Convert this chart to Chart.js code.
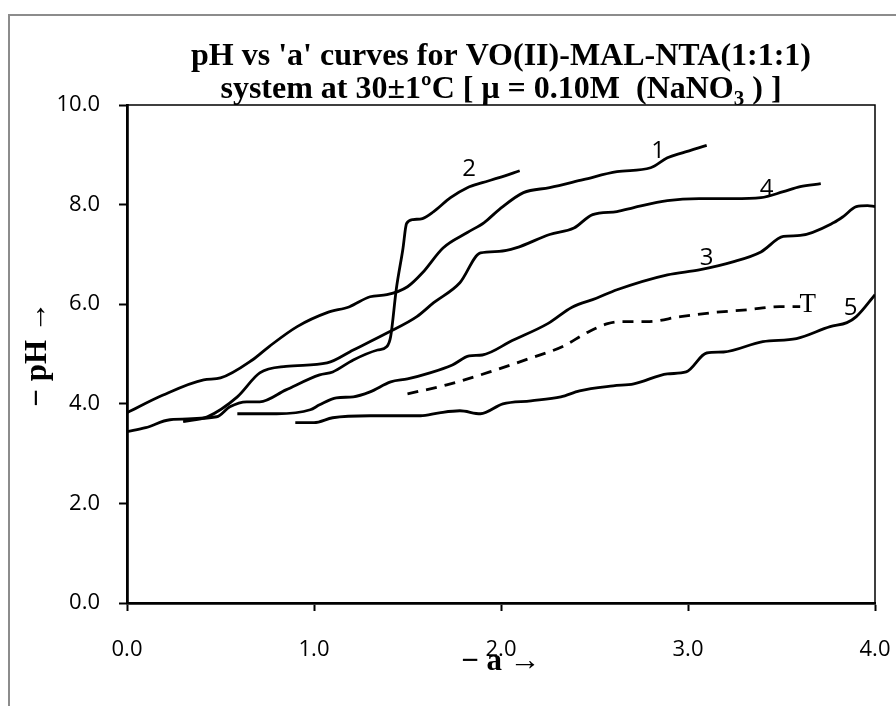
<!DOCTYPE html>
<html>
<head>
<meta charset="utf-8">
<script src="https://cdn.jsdelivr.net/npm/chart.js@4.4.1/dist/chart.umd.min.js"></script>
<style>
  html, body { margin: 0; padding: 0; background: #fff; }
  #wrap { position: relative; width: 896px; height: 706px; }
  #frame { position: absolute; left: 8px; top: 14px; width: 900px; height: 700px;
           border-left: 2px solid #8c8c8c; border-top: 2px solid #8c8c8c; }
  canvas { position: absolute; left: 0; top: 0; }
</style>
</head>
<body>
<div id="wrap">
  <div id="frame"></div>
  <canvas id="phChart" width="896" height="706"></canvas>
</div>
<script>
// values
const curve1X = [0.00, 0.19, 0.41, 0.50, 0.67, 0.76, 0.91, 1.07, 1.19, 1.30, 1.39, 1.50, 1.58, 1.69, 1.82, 1.91, 1.99, 2.12, 2.26, 2.44, 2.62, 2.80, 2.89, 2.97, 3.10];
const curve1Y = [3.82, 4.17, 4.48, 4.52, 4.88, 5.15, 5.55, 5.83, 5.95, 6.15, 6.19, 6.35, 6.63, 7.13, 7.44, 7.64, 7.90, 8.24, 8.34, 8.50, 8.66, 8.74, 8.94, 9.04, 9.19];

const curve2X = [0.00, 0.10, 0.23, 0.48, 0.55, 0.64, 0.71, 0.85, 1.03, 1.10, 1.21, 1.34, 1.39, 1.41, 1.44, 1.475, 1.495, 1.53, 1.58, 1.64, 1.73, 1.82, 1.90, 1.99, 2.10];
const curve2Y = [3.44, 3.52, 3.68, 3.74, 3.94, 4.04, 4.04, 4.28, 4.58, 4.64, 4.88, 5.08, 5.15, 5.35, 6.30, 7.10, 7.62, 7.70, 7.72, 7.86, 8.14, 8.34, 8.44, 8.54, 8.68];

const curve3X = [0.59, 0.80, 0.98, 1.03, 1.12, 1.21, 1.30, 1.41, 1.50, 1.62, 1.74, 1.83, 1.90, 2.06, 2.25, 2.38, 2.51, 2.62, 2.89, 3.06, 3.24, 3.39, 3.51, 3.60, 3.78, 3.83, 3.90, 3.96, 4.00];
const curve3Y = [3.80, 3.80, 3.88, 3.98, 4.12, 4.14, 4.24, 4.44, 4.50, 4.62, 4.78, 4.96, 4.98, 5.27, 5.61, 5.94, 6.12, 6.29, 6.59, 6.69, 6.85, 7.05, 7.36, 7.38, 7.64, 7.76, 7.96, 7.98, 7.96];

const curve4X = [0.30, 0.43, 0.59, 0.71, 0.85, 1.07, 1.21, 1.39, 1.55, 1.64, 1.78, 1.89, 1.99, 2.08, 2.26, 2.39, 2.49, 2.62, 2.71, 2.89, 3.06, 3.24, 3.39, 3.51, 3.60, 3.71];
const curve4Y = [3.64, 3.74, 4.14, 4.62, 4.75, 4.82, 5.08, 5.42, 5.75, 6.03, 6.43, 7.03, 7.06, 7.13, 7.40, 7.53, 7.80, 7.86, 7.94, 8.08, 8.12, 8.12, 8.14, 8.26, 8.36, 8.42];

const curve5X = [0.90, 1.00, 1.10, 1.30, 1.57, 1.67, 1.78, 1.89, 2.01, 2.16, 2.32, 2.42, 2.60, 2.71, 2.89, 2.99, 3.10, 3.19, 3.40, 3.58, 3.76, 3.85, 3.90, 4.00];
const curve5Y = [3.62, 3.62, 3.72, 3.76, 3.76, 3.82, 3.86, 3.80, 4.00, 4.06, 4.14, 4.26, 4.36, 4.40, 4.60, 4.64, 5.02, 5.04, 5.25, 5.31, 5.55, 5.63, 5.75, 6.19];

const curveTX = [1.50, 1.71, 1.94, 2.16, 2.33, 2.46, 2.57, 2.64, 2.78, 2.96, 3.13, 3.32, 3.49, 3.60];
const curveTY = [4.20, 4.38, 4.64, 4.92, 5.15, 5.43, 5.61, 5.65, 5.65, 5.75, 5.83, 5.89, 5.95, 5.95];

const xTicks = [0, 1, 2, 3, 4];
const yTicks = [0, 2, 4, 6, 8, 10];

const curveNames = ['1', '2', '3', '4', '5', 'T'];
const labelX = [2.84, 1.83, 3.10, 3.42, 3.87, 3.64];
const labelY = [9.07, 8.72, 6.93, 8.32, 5.93, 5.99];

const titleLines = ["pH vs 'a' curves for VO(II)-MAL-NTA(1:1:1)", 'system at 30±1ºC [ μ = 0.10M  (NaNO', ' ) ]'];

const serif = '"Liberation Serif", "Times New Roman", serif';

function toPoints(xs, ys) {
    return xs.map((x, i) => ({ x: x, y: ys[i] }));
}

function lineSet(name, xs, ys, dashed) {
    return {
        label: name,
        data: toPoints(xs, ys),
        showLine: true,
        borderColor: '#000',
        borderWidth: 2.8,
        borderDash: dashed ? [11, 8] : [],
        pointRadius: 0,
        fill: false,
        cubicInterpolationMode: 'monotone'
    };
}

// title, plot box top/right lines and curve labels
const decorPlugin = {
    id: 'decor',
    afterDraw(chart) {
        const ctx = chart.ctx;
        const area = chart.chartArea;
        const xs = chart.scales.x;
        const ys = chart.scales.y;
        ctx.save();

        ctx.strokeStyle = '#000';
        ctx.lineWidth = 1.5;
        ctx.beginPath();
        ctx.moveTo(area.left, area.top);
        ctx.lineTo(area.right, area.top);
        ctx.lineTo(area.right, area.bottom);
        ctx.stroke();

        ctx.fillStyle = '#000';
        ctx.textBaseline = 'alphabetic';
        const big = 'bold 32px ' + serif;
        const small = 'bold 21px ' + serif;
        const cx = (area.left + area.right) / 2;
        ctx.font = big;
        ctx.textAlign = 'center';
        ctx.fillText(titleLines[0], cx, 65);

        const w1 = ctx.measureText(titleLines[1]).width;
        const w2 = ctx.measureText(titleLines[2]).width;
        ctx.font = small;
        const wSub = ctx.measureText('3').width;
        const start = cx - (w1 + wSub + w2) / 2;
        ctx.textAlign = 'left';
        ctx.font = big;
        ctx.fillText(titleLines[1], start, 98);
        ctx.font = small;
        ctx.fillText('3', start + w1, 105);
        ctx.font = big;
        ctx.fillText(titleLines[2], start + w1 + wSub, 98);

        ctx.textAlign = 'center';
        ctx.textBaseline = 'middle';
        curveNames.forEach((name, i) => {
            if (name === 'T') {
                ctx.font = '27px ' + serif;
            } else {
                ctx.font = '24px "Open Sans", sans-serif';
            }
            ctx.fillText(name, xs.getPixelForValue(labelX[i]), ys.getPixelForValue(labelY[i]));
        });
        ctx.restore();
    }
};

const ctx = document.getElementById('phChart').getContext('2d');
const phChart = new Chart(ctx, {
    type: 'scatter',
    data: {
        datasets: [
            lineSet('1', curve1X, curve1Y, false),
            lineSet('2', curve2X, curve2Y, false),
            lineSet('3', curve3X, curve3Y, false),
            lineSet('4', curve4X, curve4Y, false),
            lineSet('5', curve5X, curve5Y, false),
            lineSet('T', curveTX, curveTY, true)
        ]
    },
    options: {
        responsive: false,
        animation: false,
        layout: { padding: { left: 0, right: 21, top: 105, bottom: 0 } },
        plugins: {
            legend: { display: false },
            tooltip: { enabled: false }
        },
        scales: {
            x: {
                type: 'linear',
                min: 0,
                max: 4,
                afterFit: s => {
                    s.height = 103;
                    s.paddingLeft = 0;
                    s.paddingRight = 0;
                },
                afterBuildTicks: s => { s.ticks = xTicks.map(v => ({ value: v })); },
                border: { display: true, color: '#000', width: 2.8 },
                grid: { display: true, drawOnChartArea: false, drawTicks: true, tickLength: 8, tickColor: '#000', tickWidth: 2 },
                ticks: {
                    color: '#000',
                    padding: 26,
                    font: { family: '"Open Sans", sans-serif', size: 22 },
                    callback: v => v.toFixed(1)
                },
                title: {
                    display: true,
                    text: '− a →',
                    color: '#000',
                    padding: { top: 0, bottom: 25 },
                    font: { family: serif, size: 31, weight: 'bold' }
                }
            },
            y: {
                type: 'linear',
                min: 0,
                max: 10,
                afterFit: s => {
                    s.width = 127;
                    s.paddingTop = 0;
                    s.paddingBottom = 0;
                },
                afterBuildTicks: s => { s.ticks = yTicks.map(v => ({ value: v })); },
                border: { display: true, color: '#000', width: 2.8 },
                grid: { display: true, drawOnChartArea: false, drawTicks: true, tickLength: 8, tickColor: '#000', tickWidth: 2 },
                ticks: {
                    color: '#000',
                    padding: 19,
                    font: { family: '"Open Sans", sans-serif', size: 22 },
                    callback: v => v.toFixed(1)
                },
                title: {
                    display: true,
                    text: '− pH →',
                    color: '#000',
                    padding: { top: 19, bottom: 0 },
                    font: { family: serif, size: 31, weight: 'bold' }
                }
            }
        }
    },
    plugins: [decorPlugin]
});
</script>
</body>
</html>
